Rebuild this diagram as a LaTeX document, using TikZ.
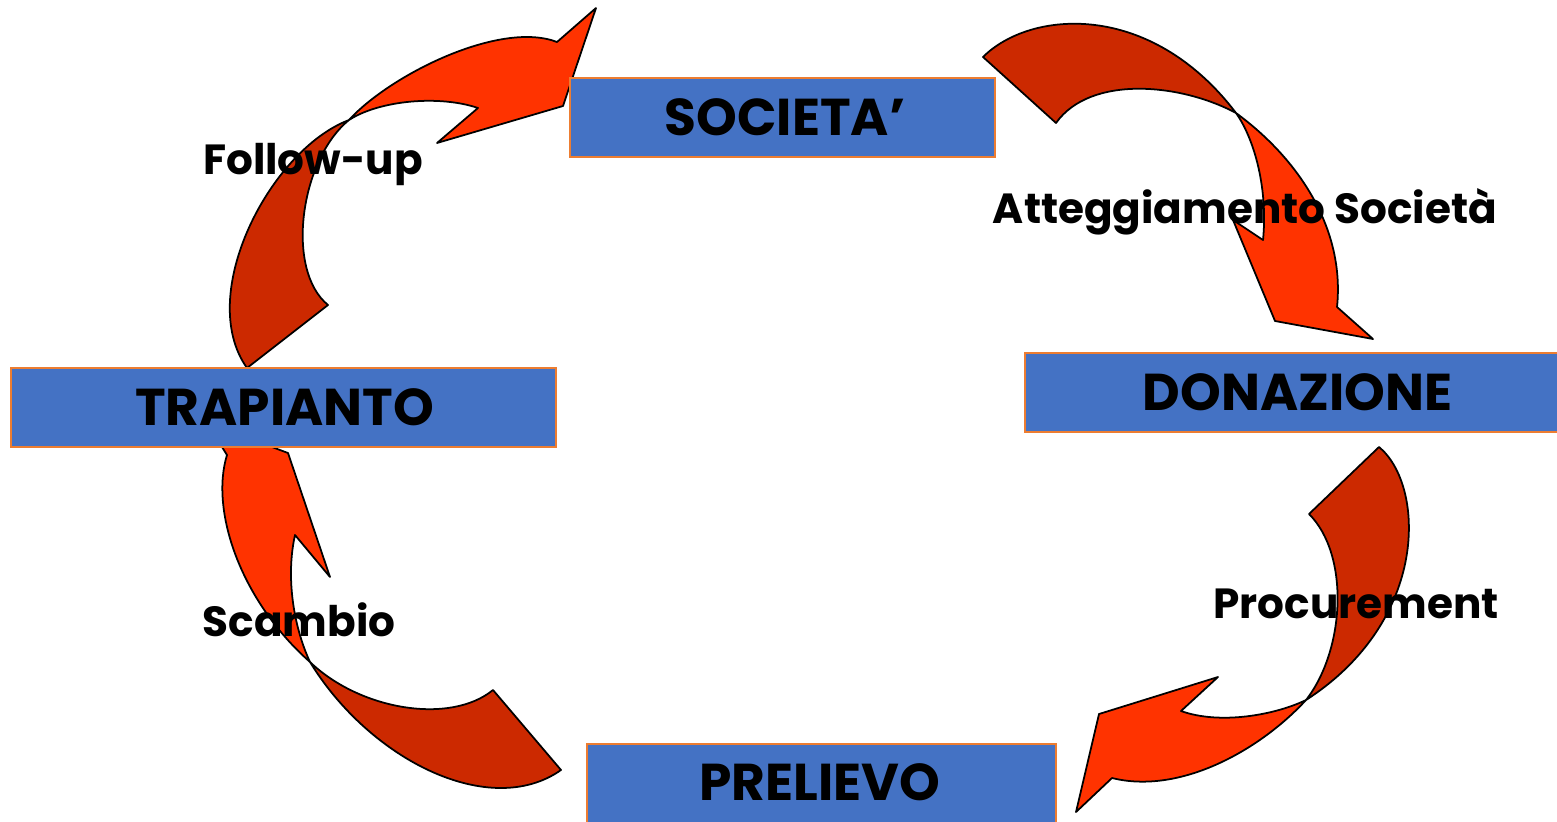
\documentclass[tikz,border=0pt]{standalone}
\usepackage{fontspec}
\setmainfont{Poppins}
\definecolor{boxblue}{HTML}{4472C4}
\definecolor{boxedge}{HTML}{ED7D31}
\definecolor{backred}{HTML}{CC2900}
\definecolor{frontred}{HTML}{FF3300}
\tikzset{
  stagebox/.style={draw=boxedge, line width=1.2pt, fill=boxblue, inner sep=0pt},
  stagetext/.style={inner sep=0pt, font=\fontsize{29.5}{33}\selectfont\bfseries},
  steplabel/.style={inner sep=0pt, font=\fontsize{24}{28}\selectfont\bfseries},
  backband/.style={fill=backred, draw=black, line width=1pt, line join=round},
  frontband/.style={fill=frontred, draw=black, line width=1pt, line join=round}
}
\begin{document}
\begin{tikzpicture}[x=0.02cm, y=-0.02cm]
\useasboundingbox (0,0) rectangle (1557,821);
\fill[white] (0,0) rectangle (1557,821);

% ---- arrow 1: TRAPIANTO -> SOCIETA' (Follow-up)
\coordinate (x1) at (349,120);
\draw[backband] (247,368) .. controls (195,295) and (270,150) .. (x1)
  .. controls (300,160) and (285,270) .. (328,305) -- cycle;
\draw[frontband] (x1) .. controls (390,75) and (500,20) .. (557,42)
  -- (596,8) -- (563,106) -- (437,143) -- (478,108)
  .. controls (440,95) and (380,100) .. (x1) -- cycle;

% ---- arrow 2: SOCIETA' -> DONAZIONE (Atteggiamento Societa)
\coordinate (x2) at (1236,113);
\draw[backband] (983,57) .. controls (1030,10) and (1150,0) .. (x2)
  .. controls (1180,83) and (1090,75) .. (1056,123) -- cycle;
\draw[frontband] (x2) .. controls (1300,160) and (1345,230) .. (1337,307)
  -- (1373,339) -- (1275,321) -- (1233,220) -- (1263,240)
  .. controls (1268,190) and (1255,140) .. (x2) -- cycle;

% ---- arrow 3: DONAZIONE -> PRELIEVO (Procurement)
\coordinate (x3) at (1306,700);
\draw[backband] (1379,447) .. controls (1425,485) and (1430,620) .. (x3)
  .. controls (1345,650) and (1350,555) .. (1309,514) -- cycle;
\draw[frontband] (x3) .. controls (1260,750) and (1180,795) .. (1112,778)
  -- (1076,812) -- (1099,714) -- (1218,677) -- (1181,711)
  .. controls (1220,725) and (1275,715) .. (x3) -- cycle;

% ---- arrow 4: PRELIEVO -> TRAPIANTO (Scambio)
\coordinate (x4) at (310,662);
\draw[backband] (x4) .. controls (370,760) and (490,820) .. (561,770)
  -- (493,690) .. controls (450,725) and (360,710) .. (x4) -- cycle;
\draw[frontband] (x4) .. controls (240,600) and (210,510) .. (227,455)
  -- (222,447) -- (245,425) -- (272,447) -- (288,453) -- (330,577) -- (295,535)
  .. controls (285,580) and (295,630) .. (x4) -- cycle;

% ---- stage boxes
\node[stagebox, minimum width=425*0.02cm, minimum height=79*0.02cm] (soc) at (782.5,117.5) {};
\node[stagetext] (soctext) at (785,117.5) {SOCIETA'};
\node[stagebox, minimum width=545*0.02cm, minimum height=79*0.02cm] (tra) at (283.5,407.5) {};
\node[stagetext] (tratext) at (284.5,407.5) {TRAPIANTO};
\node[stagebox, minimum width=540*0.02cm, minimum height=79*0.02cm, anchor=west] (don) at (1024,392.5) {};
\node[stagetext] (dontext) at (1297.5,392.5) {DONAZIONE};
\node[stagebox, minimum width=469*0.02cm, minimum height=90*0.02cm, anchor=north west] (pre) at (586,743) {};
\node[stagetext] (pretext) at (820,782) {PRELIEVO};

% ---- step labels
\node[steplabel] (lfol) at (313,165) {Follow-up};
\node[steplabel] (latt) at (1245,212) {Atteggiamento Società};
\node[steplabel] (lpro) at (1356,604) {Procurement};
\node[steplabel] (lsca) at (299,620) {Scambio};
\end{tikzpicture}
\end{document}
